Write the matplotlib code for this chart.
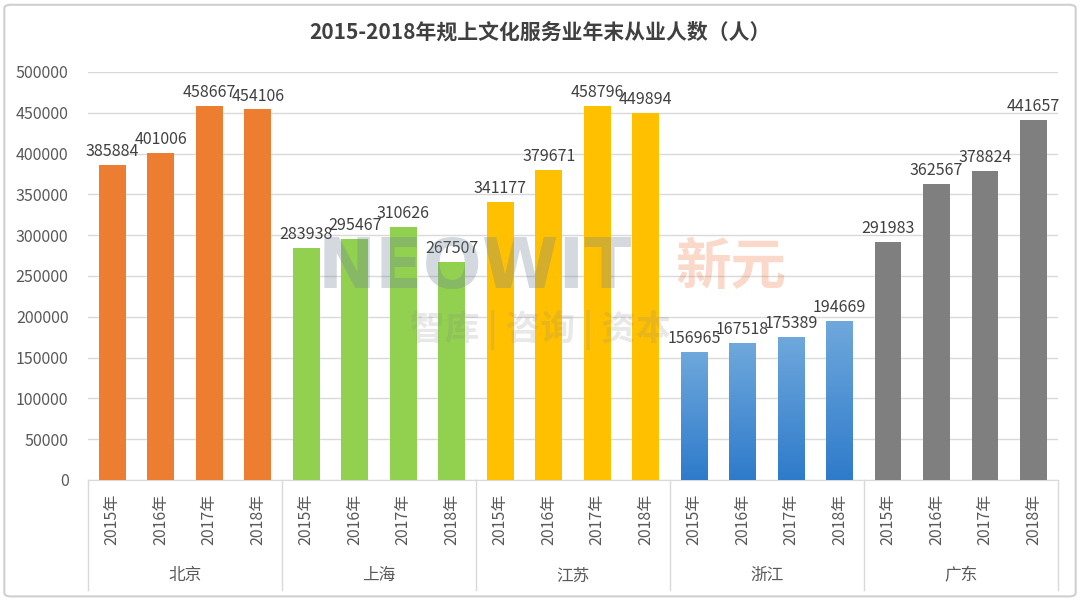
import numpy as np
import matplotlib
matplotlib.use("Agg")
import matplotlib.pyplot as plt
from matplotlib.patches import FancyBboxPatch

plt.rcParams['font.family'] = ['Noto Sans CJK SC', 'DejaVu Sans']

TITLE = "2015-2018年规上文化服务业年末从业人数（人）"
YEARS = ["2015年", "2016年", "2017年", "2018年"]
REGIONS = ["北京", "上海", "江苏", "浙江", "广东"]
beijing = [385884, 401006, 458667, 454106]
shanghai = [283938, 295467, 310626, 267507]
jiangsu = [341177, 379671, 458796, 449894]
zhejiang = [156965, 167518, 175389, 194669]
guangdong = [291983, 362567, 378824, 441657]
SERIES = [beijing, shanghai, jiangsu, zhejiang, guangdong]
COLORS = ["#ED7D31", "#92D050", "#FFC000", "#5B9BD5", "#7F7F7F"]
YTICKS = [0, 50000, 100000, 150000, 200000, 250000, 300000, 350000, 400000, 450000, 500000]

TEXT = "#595959"

fig = plt.figure(figsize=(10.8, 6), dpi=100)
fig.patch.set_facecolor("white")
# outer frame like the Excel chart area
fig.patches.append(FancyBboxPatch((0.004, 0.006), 0.992, 0.986,
                                  boxstyle="round,pad=0,rounding_size=0.006",
                                  transform=fig.transFigure, fill=False,
                                  edgecolor="#D0D0D0", linewidth=1.5))

ax = fig.add_axes([0.0815, 0.2, 0.898, 0.68])
width = 0.55
n = len(YEARS)
for g, (vals, col) in enumerate(zip(SERIES, COLORS)):
    xs = np.arange(n) + g * n
    if g == 3:
        # Zhejiang bars are drawn with a light-to-dark gradient
        bars = ax.bar(xs, vals, width=width, color="none", edgecolor="none", zorder=3)
        grad = np.linspace(0, 1, 256).reshape(-1, 1)
        cmap = matplotlib.colors.LinearSegmentedColormap.from_list("blu", ["#2E7BCB", "#6FA8DC"])
        for b in bars:
            im = ax.imshow(grad, extent=(b.get_x(), b.get_x() + b.get_width(), 0, b.get_height()),
                           origin="lower", aspect="auto", cmap=cmap, zorder=3)
            im.set_clip_path(b)
    else:
        ax.bar(xs, vals, width=width, color=col, zorder=3)
    for x, v in zip(xs, vals):
        ax.text(x, v + 6000, str(v), ha="center", va="bottom", fontsize=11.5,
                color="#404040", zorder=5)

ax.set_xlim(-0.5, len(REGIONS) * n - 0.5)
ax.set_ylim(0, 500000)
ax.set_yticks(YTICKS)
ax.set_yticklabels([str(t) for t in YTICKS], fontsize=11.5, color=TEXT)
ax.grid(axis="y", color="#D9D9D9", linewidth=1, zorder=0)
for s in ["top", "right", "left"]:
    ax.spines[s].set_visible(False)
ax.spines["bottom"].set_color("#D9D9D9")
ax.tick_params(axis="y", length=0, pad=14)
ax.tick_params(axis="x", length=0, pad=10)
ax.set_xticks(np.arange(len(REGIONS) * n))
ax.set_xticklabels(YEARS * len(REGIONS), rotation=90, fontsize=11.5, color=TEXT)

trans = matplotlib.transforms.blended_transform_factory(ax.transData, ax.transAxes)
for g in range(len(REGIONS) + 1):
    ax.plot([g * n - 0.5, g * n - 0.5], [0, -0.27], transform=trans, color="#D9D9D9",
            linewidth=1, clip_on=False)
for g, name in enumerate(REGIONS):
    ax.text(g * n + 1.5, -0.235, name, transform=trans, ha="center", va="center",
            fontsize=12, color=TEXT)

fig.text(0.5, 0.947, TITLE, ha="center", va="center", fontsize=15, fontweight="bold",
         color="#404040")

# faint watermark
fig.text(0.44, 0.553, "NEOWIT", ha="center", va="center", fontsize=50, fontweight="bold",
         family="DejaVu Sans", color="#6E8296", alpha=0.3, zorder=10)
fig.text(0.677, 0.553, "新元", ha="center", va="center", fontsize=40, fontweight="bold",
         color="#F08050", alpha=0.3, zorder=10)
fig.text(0.5, 0.45, "智库 | 咨询 | 资本", ha="center", va="center", fontsize=25, fontweight="bold",
         color="#8C8C8C", alpha=0.2, zorder=10)

fig.savefig("out.png", dpi=100)
